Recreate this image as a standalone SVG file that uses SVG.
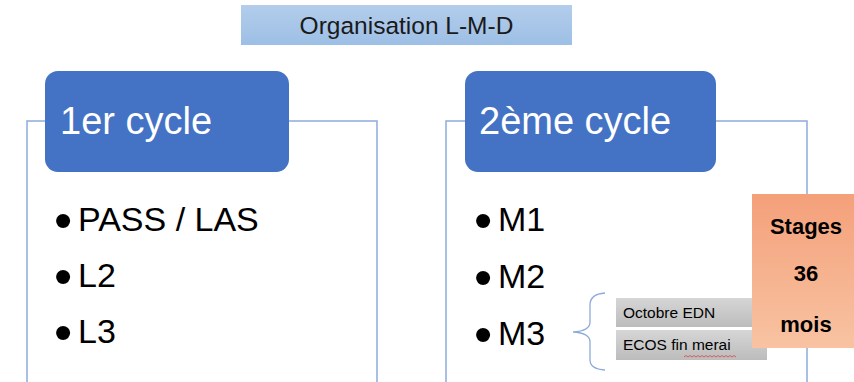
<svg xmlns="http://www.w3.org/2000/svg" width="854" height="382" viewBox="0 0 854 382">
<defs>
<linearGradient id="gTitle" x1="0" y1="0" x2="0" y2="1"><stop offset="0" stop-color="#b3cdec"/><stop offset="1" stop-color="#9dbfe5"/></linearGradient>
<linearGradient id="gStage" x1="0" y1="0" x2="0" y2="1"><stop offset="0" stop-color="#f4a07a"/><stop offset="1" stop-color="#f8c3a2"/></linearGradient>
<linearGradient id="gGray" x1="0" y1="0" x2="0" y2="1"><stop offset="0" stop-color="#d6d6d6"/><stop offset="1" stop-color="#bcbcbc"/></linearGradient>
<style>
.frame{fill:none;stroke:#8eaadb;stroke-width:1.5}
.head{fill:#4472c4}
.headtxt{font-family:"Liberation Sans",Arial,sans-serif;font-size:38px;fill:#ffffff}
.item{font-family:"Liberation Sans",Arial,sans-serif;font-size:34px;fill:#000000}
.blt{font-size:52px}
.small{font-family:"Liberation Sans",Arial,sans-serif;font-size:15.5px;fill:#000000}
.stg{font-family:"Liberation Sans",Arial,sans-serif;font-size:22px;font-weight:bold;fill:#000000;text-anchor:middle}
</style>
</defs>
<rect width="854" height="382" fill="#ffffff"/>
<g id="title">
<rect x="241" y="5" width="331" height="40" fill="url(#gTitle)"/>
<text x="406.5" y="34" font-family="Liberation Sans,Arial,sans-serif" font-size="24.5" text-anchor="middle" fill="#1a1a1a">Organisation L-M-D</text>
</g>
<g id="connectors">
<path class="frame" d="M27,384 V121 H377 V384"/>
<path class="frame" d="M446,384 V121 H807 V384"/>
<path d="M605,293 Q590,294 590,305 V322 Q590,331 573,332 Q590,333 590,342 V360 Q590,369 605,370" fill="none" stroke="#8eaadb" stroke-width="1.3"/>
</g>
<g id="cycle1">
<rect class="head" x="45" y="71" width="244" height="101" rx="13"/>
<text class="headtxt" x="60" y="134">1er cycle</text>
<text class="item" x="54" y="231"><tspan class="blt" dy="7">•</tspan><tspan x="78" dy="-7">PASS / LAS</tspan></text>
<text class="item" x="54" y="287"><tspan class="blt" dy="7">•</tspan><tspan x="78" dy="-7">L2</tspan></text>
<text class="item" x="54" y="343"><tspan class="blt" dy="7">•</tspan><tspan x="78" dy="-7">L3</tspan></text>
</g>
<g id="cycle2">
<rect class="head" x="465" y="71" width="251" height="101" rx="13"/>
<text class="headtxt" x="479" y="134">2ème cycle</text>
<text class="item" x="474" y="231"><tspan class="blt" dy="7">•</tspan><tspan x="498" dy="-7">M1</tspan></text>
<text class="item" x="474" y="288"><tspan class="blt" dy="7">•</tspan><tspan x="498" dy="-7">M2</tspan></text>
<text class="item" x="474" y="345"><tspan class="blt" dy="7">•</tspan><tspan x="498" dy="-7">M3</tspan></text>
</g>
<g id="edn">
<rect x="616" y="298" width="140" height="29" fill="url(#gGray)"/>
<text class="small" x="623" y="318">Octobre EDN</text>
</g>
<g id="ecos">
<rect x="616" y="330" width="151" height="30" fill="url(#gGray)"/>
<text class="small" x="623" y="350">ECOS fin merai</text>
<path d="M684,357 l2,-1.5 l2,1.5 l2,-1.5 l2,1.5 l2,-1.5 l2,1.5 l2,-1.5 l2,1.5 l2,-1.5 l2,1.5 l2,-1.5 l2,1.5 l2,-1.5 l2,1.5 l2,-1.5 l2,1.5 l2,-1.5 l2,1.5 l2,-1.5 l2,1.5 l2,-1.5 l2,1.5 l2,-1.5 l2,1.5 l2,-1.5 l2,1.5" fill="none" stroke="#e04040" stroke-width="0.8"/>
</g>
<g id="stages">
<rect x="752" y="194" width="110" height="154" fill="url(#gStage)"/>
<text class="stg" x="806" y="234">Stages</text>
<text class="stg" x="806" y="281">36</text>
<text class="stg" x="806" y="332">mois</text>
</g>
</svg>
